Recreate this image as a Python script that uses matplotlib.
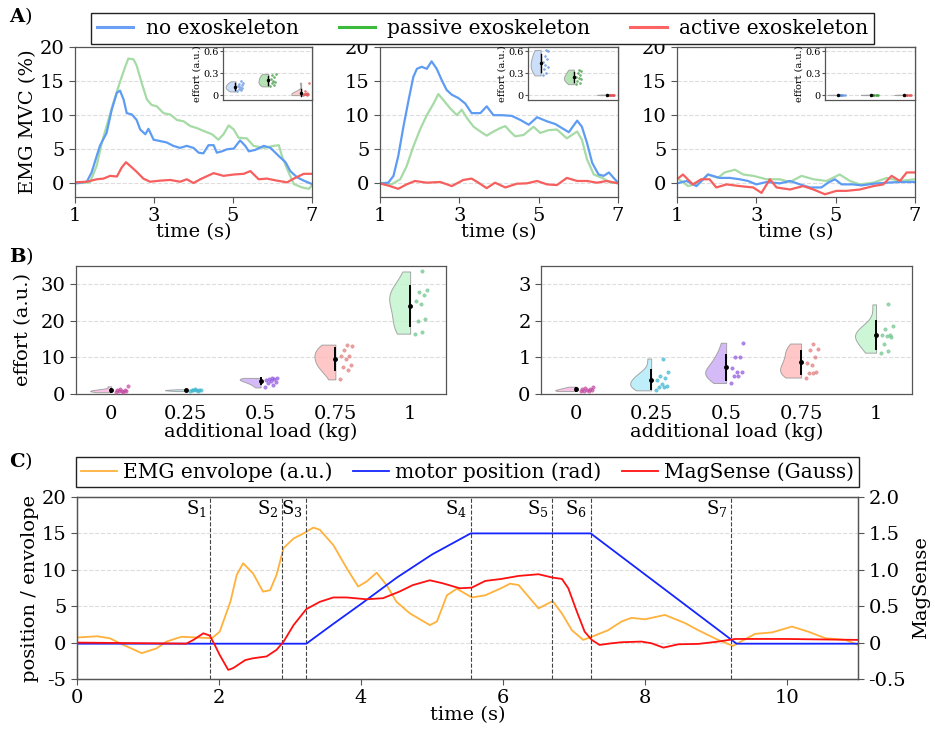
import numpy as np
import matplotlib
matplotlib.use("Agg")
import matplotlib.pyplot as plt
from matplotlib.lines import Line2D

plt.rcParams['font.family'] = 'DejaVu Serif'
plt.rcParams['mathtext.fontset'] = 'dejavuserif'
plt.rcParams['axes.unicode_minus'] = False

# ---- Panel A: EMG MVC (%) traces, three conditions ----
a1_blue_t = [1.0, 1.3, 1.42, 1.63, 1.8, 1.93, 2.06, 2.14, 2.23, 2.31, 2.44, 2.56, 2.65, 2.78, 2.86, 2.99,
             3.16, 3.32, 3.49, 3.66, 3.83, 4.0, 4.13, 4.25, 4.38, 4.51, 4.59, 4.72, 4.85, 5.02, 5.18, 5.31,
             5.4, 5.56, 5.78, 5.95, 6.16, 6.33, 6.45, 6.62, 6.79, 7.0]
a1_blue_y = [0, 0.24, 1.6, 5.5, 7.4, 10.8, 13.3, 13.6, 12.3, 10.3, 10.1, 9.3, 7.9, 7.2, 8.0, 6.4,
             6.2, 6.0, 5.5, 5.2, 5.5, 5.2, 4.5, 4.4, 5.6, 5.6, 4.5, 4.7, 5.0, 5.1, 6.3, 5.5,
             4.7, 4.9, 5.5, 5.2, 4.0, 3.1, 1.8, 0.9, 0.4, -0.1]
a1_green_t = [1.0, 1.38, 1.55, 1.68, 1.8, 1.97, 2.14, 2.27, 2.35, 2.48, 2.56, 2.69, 2.82, 2.94, 3.07,
              3.24, 3.41, 3.58, 3.75, 3.92, 4.09, 4.25, 4.47, 4.63, 4.76, 4.89, 5.02, 5.14, 5.35, 5.52,
              5.78, 6.03, 6.16, 6.24, 6.37, 6.54, 6.75, 6.92, 7.0]
a1_green_y = [0, 0.15, 2.6, 6.0, 8.4, 11.8, 14.9, 17.1, 18.3, 18.2, 17.3, 14.7, 12.3, 11.5, 11.3,
              10.3, 10.1, 9.3, 9.1, 8.4, 8.1, 7.7, 7.2, 6.4, 7.2, 8.5, 7.9, 6.7, 6.6, 5.5,
              5.2, 5.5, 5.6, 4.0, 2.1, -0.1, -0.6, -0.8, -0.3]
a1_red_t = [1.0, 1.3, 1.55, 1.72, 1.89, 2.06, 2.18, 2.29, 2.39, 2.56, 2.73, 2.9, 3.16, 3.41, 3.66, 3.83,
            4.0, 4.17, 4.51, 4.76, 5.02, 5.27, 5.44, 5.65, 5.86, 6.11, 6.37, 6.54, 6.79, 7.0]
a1_red_y = [0.15, 0.24, 0.6, 0.7, 1.1, 1.0, 2.3, 3.1, 2.6, 1.7, 0.7, 0.24, 0.4, 0.5, 0.24, 0.6,
            0.05, 0.6, 1.5, 1.1, 1.3, 1.4, 1.8, 0.6, 0.7, 0.4, 0.15, 0.7, 1.4, 1.4]

a2_blue_t = [1.0, 1.21, 1.34, 1.46, 1.59, 1.72, 1.84, 1.93, 2.05, 2.18, 2.3, 2.43, 2.56, 2.68, 2.81,
             2.98, 3.15, 3.31, 3.53, 3.69, 3.86, 4.07, 4.32, 4.54, 4.75, 4.96, 5.21, 5.42, 5.59, 5.76,
             5.97, 6.09, 6.22, 6.35, 6.51, 6.64, 6.77, 6.89, 7.0]
a2_blue_y = [0, 0.1, 1.1, 4.0, 8.3, 12.2, 15.6, 16.8, 17.1, 16.8, 17.9, 16.8, 15.1, 13.7, 13.0,
             12.5, 11.7, 10.3, 10.3, 11.3, 10.0, 10.0, 9.9, 9.3, 8.6, 9.7, 9.1, 8.7, 8.1, 7.5,
             9.2, 8.3, 5.9, 3.0, 1.3, 1.1, 1.6, 0.8, 0.1]
a2_green_t = [1.0, 1.29, 1.51, 1.67, 1.84, 2.01, 2.18, 2.35, 2.47, 2.6, 2.77, 2.94, 3.06, 3.19, 3.36,
              3.53, 3.69, 3.86, 4.03, 4.16, 4.28, 4.41, 4.62, 4.87, 5.04, 5.25, 5.46, 5.71, 5.97, 6.09,
              6.22, 6.39, 6.6, 6.81, 7.0]
a2_green_y = [0, -0.15, 0.6, 2.5, 5.4, 7.9, 10.0, 11.7, 13.1, 12.2, 11.0, 10.0, 10.8, 9.6, 8.3,
              7.6, 7.0, 7.6, 8.1, 8.4, 7.6, 6.9, 7.1, 8.3, 7.4, 7.8, 7.9, 6.6, 7.6, 6.4,
              3.5, 1.3, 0.8, 0.1, 0.1]
a2_red_t = [1.0, 1.25, 1.46, 1.67, 1.88, 2.18, 2.52, 2.81, 3.1, 3.31, 3.48, 3.69, 3.9, 4.16, 4.45, 4.7,
            4.96, 5.21, 5.46, 5.71, 5.97, 6.22, 6.47, 6.72, 7.0]
a2_red_y = [0, -0.4, -0.8, -0.15, 0.35, 0.1, 0.2, -0.4, 0.5, 0.7, 0.1, -0.7, 0.1, -0.6, -0.05, 0,
            0.35, -0.15, -0.25, 0.8, 0.35, 0.35, 0.1, 0.35, 0]

a3_blue_t = [1.0, 1.24, 1.49, 1.78, 2.08, 2.33, 2.58, 2.79, 3.0, 3.26, 3.59, 3.85, 4.1, 4.35, 4.64,
             4.81, 4.98, 5.15, 5.44, 5.65, 5.95, 6.29, 6.62, 7.0]
a3_blue_y = [0, 0.35, -0.4, 1.3, 0.8, 0.8, 0.6, 0.35, -0.15, 0.2, 0, 0.35, -0.15, -0.6, -0.6,
             0.1, 0.6, -0.15, -0.15, -0.3, -0.05, 0.1, 0.2, 0.2]
a3_green_t = [1.0, 1.28, 1.57, 1.78, 2.03, 2.2, 2.46, 2.67, 2.92, 3.26, 3.59, 3.85, 4.14, 4.44, 4.77,
              5.1, 5.36, 5.61, 5.95, 6.29, 6.62, 7.0]
a3_green_y = [0.8, -0.4, 0.1, 1.3, 0.8, 1.6, 2.0, 1.3, 1.1, 0.6, 0.6, 0.2, 1.1, 0.6, 0.35,
              1.3, 0.35, -0.15, 0.1, 0.8, 0.35, 0.6]
a3_red_t = [1.0, 1.15, 1.4, 1.61, 1.82, 1.99, 2.25, 2.58, 2.92, 3.13, 3.34, 3.51, 3.85, 4.18, 4.44,
            4.73, 5.02, 5.27, 5.61, 5.95, 6.2, 6.41, 6.62, 6.79, 7.0]
a3_red_y = [0.6, 1.3, -0.15, 0.6, 0.6, -0.6, -0.15, -0.4, -0.6, -1.4, 0.6, -0.6, -0.9, -0.4, -0.9,
            -1.6, -1.1, -1.1, -0.9, -0.4, -0.15, 1.1, 0.35, 1.6, 1.6]

# inset effort values (a.u.): no / passive / active exoskeleton
ins1_no = [0.05, 0.07, 0.08, 0.1, 0.11, 0.12, 0.14, 0.15, 0.17, 0.19]
ins1_pas = [0.12, 0.14, 0.16, 0.18, 0.2, 0.22, 0.25, 0.27, 0.29]
ins1_act = [0.0, 0.0, 0.01, 0.01, 0.02, 0.02, 0.03, 0.05, 0.17]
ins2_no = [0.27, 0.3, 0.36, 0.38, 0.42, 0.45, 0.5, 0.53, 0.6, 0.62]
ins2_pas = [0.15, 0.17, 0.2, 0.22, 0.23, 0.25, 0.27, 0.3, 0.33, 0.35]
ins2_act = [0.0, 0.0, 0.002, 0.003, 0.004, 0.005, 0.006, 0.008]
ins3_no = [0.0, 0.001, 0.002, 0.003, 0.004, 0.005]
ins3_pas = [0.0, 0.001, 0.002, 0.003, 0.004, 0.006]
ins3_act = [0.0, 0.001, 0.002, 0.003, 0.005, 0.006]

# ---- Panel B: effort vs additional load ----
loads = ["0", "0.25", "0.5", "0.75", "1"]
effort_left = [
    [0.5, 0.6, 0.7, 0.8, 0.9, 1.0, 1.1, 1.3, 2.1],
    [0.8, 0.9, 1.0, 1.0, 1.1, 1.1, 1.2, 1.3],
    [1.8, 2.5, 3.0, 3.3, 3.6, 3.9, 4.1, 4.2, 4.3, 4.4],
    [4.0, 6.5, 7.5, 8.0, 9.5, 10.5, 10.5, 12.0, 13.0, 13.5],
    [16.5, 17.0, 20.0, 20.5, 24.5, 25.5, 27.0, 28.0, 28.5, 33.5],
]
effort_right = [
    [0.08, 0.08, 0.09, 0.1, 0.12, 0.13, 0.15, 0.17, 0.2],
    [0.1, 0.18, 0.2, 0.22, 0.27, 0.38, 0.45, 0.5, 0.6, 0.97],
    [0.3, 0.5, 0.5, 0.6, 0.6, 0.7, 1.0, 1.0, 1.4],
    [0.45, 0.57, 0.58, 0.6, 0.8, 0.85, 1.0, 1.2, 1.22, 1.38],
    [1.13, 1.17, 1.37, 1.55, 1.58, 1.6, 1.62, 1.78, 1.85, 2.45],
]

# ---- Panel C: EMG envelope, motor position, MagSense ----
emg_t = [0, 0.28, 0.46, 0.65, 0.91, 1.12, 1.26, 1.47, 1.69, 1.9, 2.01, 2.16, 2.25, 2.34, 2.48, 2.62,
         2.72, 2.81, 2.91, 3.05, 3.19, 3.33, 3.42, 3.61, 3.8, 3.96, 4.08, 4.22, 4.36, 4.5, 4.69,
         4.97, 5.07, 5.21, 5.35, 5.56, 5.75, 5.98, 6.1, 6.22, 6.36, 6.5, 6.7, 6.83, 6.97, 7.13,
         7.25, 7.48, 7.67, 7.81, 8.0, 8.28, 8.56, 8.75, 9.03, 9.24, 9.35, 9.55, 9.79, 10.07, 10.3,
         10.54, 10.82, 11.0]
emg_y = [0.7, 0.87, 0.6, -0.3, -1.45, -0.8, 0.14, 0.8, 0.7, 0.6, 1.5, 5.6, 9.3, 10.9, 9.5, 7.0,
         7.2, 9.3, 13.0, 14.3, 15.0, 15.8, 15.5, 13.4, 10.2, 7.7, 8.4, 9.6, 7.9, 5.6, 4.0,
         2.4, 2.9, 6.5, 7.4, 6.2, 6.5, 7.5, 8.1, 7.9, 6.3, 4.7, 5.7, 4.0, 1.7, 0.37,
         0.8, 1.7, 2.9, 3.4, 3.2, 3.8, 2.7, 1.7, 0.37, -0.46, 0.14, 1.2, 1.4, 2.2, 1.5,
         0.6, 0.37, -0.3]
motor_t = [0, 3.23, 3.6, 4.0, 4.5, 5.0, 5.545, 7.235, 9.29, 11.0]
motor_rad = [-0.015, -0.015, 0.25, 0.53, 0.89, 1.21, 1.5, 1.5, -0.015, -0.015]
mag_t = [0, 1.54, 1.64, 1.78, 1.87, 1.94, 2.01, 2.13, 2.2, 2.37, 2.48, 2.67, 2.81, 2.91, 3.05, 3.23,
         3.42, 3.61, 3.8, 4.08, 4.31, 4.54, 4.73, 4.97, 5.15, 5.39, 5.56, 5.75, 5.98, 6.22, 6.5,
         6.7, 6.83, 6.92, 7.04, 7.15, 7.25, 7.36, 7.53, 7.67, 7.95, 8.09, 8.26, 8.47, 8.75, 9.03,
         9.27, 9.97, 11.0]
mag_y = [0.0, -0.014, 0.037, 0.128, 0.096, -0.032, -0.17, -0.375, -0.35, -0.24, -0.215, -0.19, -0.1,
         0.014, 0.24, 0.46, 0.56, 0.62, 0.62, 0.595, 0.61, 0.7, 0.79, 0.856, 0.815, 0.746, 0.755,
         0.847, 0.875, 0.916, 0.939, 0.893, 0.875, 0.746, 0.426, 0.15, 0.037, -0.032, -0.009,
         0.005, 0.014, -0.009, -0.069, -0.023, -0.018, 0.014, 0.05, 0.05, 0.037]
phase_t = [1.88, 2.89, 3.23, 5.545, 6.69, 7.235, 9.21]

W, H = 935, 735
fig = plt.figure(figsize=(W / 100, H / 100), dpi=100)


def rect(l, t, r, b):
    return [l / W, 1 - b / H, (r - l) / W, (b - t) / H]


def style(ax, fs=14):
    for s in ax.spines.values():
        s.set_color('#555555')
        s.set_linewidth(0.9)
    ax.tick_params(labelsize=fs, length=4, color='#555555')
    ax.yaxis.grid(True, ls='--', color='#dddddd', lw=0.8)
    ax.set_axisbelow(True)


def half_violin(ax, pos, vals, fill, dotc, width=0.28, s=6, spread=0.17, lw=1.4, ms=2.5):
    v = np.asarray(vals, float)
    sd = v.std(ddof=1)
    bw = sd * len(v) ** (-0.2) if sd > 0 else 1e-3
    yy = np.linspace(v.min(), v.max(), 120)
    d = np.exp(-0.5 * ((yy[:, None] - v[None, :]) / bw) ** 2).sum(1)
    d = d / d.max()
    ax.fill_betweenx(yy, pos - width * d, pos, facecolor=fill, edgecolor='#999999',
                     linewidth=0.7, alpha=0.85, zorder=2)
    jit = pos + 0.06 + spread * ((np.arange(len(v)) * 0.618) % 1.0)
    ax.scatter(jit, v, s=s, color=dotc, edgecolors=dotc, linewidths=0.4, alpha=0.7, zorder=3)
    m = v.mean()
    ax.plot([pos, pos], [m - sd, m + sd], color='black', lw=lw, zorder=4)
    ax.plot([pos], [m], 'o', color='black', ms=ms, zorder=5)


# ---------------- Panel A ----------------
c_blue, c_green, c_red = '#5e9cf4', '#a6dba6', '#f75e5e'
traces = [
    (a1_blue_t, a1_blue_y, a1_green_t, a1_green_y, a1_red_t, a1_red_y),
    (a2_blue_t, a2_blue_y, a2_green_t, a2_green_y, a2_red_t, a2_red_y),
    (a3_blue_t, a3_blue_y, a3_green_t, a3_green_y, a3_red_t, a3_red_y),
]
insets = [(ins1_no, ins1_pas, ins1_act), (ins2_no, ins2_pas, ins2_act), (ins3_no, ins3_pas, ins3_act)]
a_boxes = [(75, 312, 223), (380, 618, 528), (677, 915, 825)]

for i, ((l, r, il), tr, ins) in enumerate(zip(a_boxes, traces, insets)):
    ax = fig.add_axes(rect(l, 47, r, 197))
    style(ax)
    ax.plot(tr[2], tr[3], color=c_green, lw=1.6)
    ax.plot(tr[0], tr[1], color=c_blue, lw=1.6)
    ax.plot(tr[4], tr[5], color=c_red, lw=1.6)
    ax.set_xlim(1, 7)
    ax.set_ylim(-2, 20)
    ax.set_xticks([1, 3, 5, 7])
    ax.set_yticks([0, 5, 10, 15, 20])
    ax.set_xlabel('time (s)', fontsize=14, labelpad=-2)
    if i == 0:
        ax.set_ylabel('EMG MVC (%)', fontsize=14, labelpad=2)

    axi = fig.add_axes(rect(il, 47, r, 99.5))
    style(axi, fs=7)
    axi.tick_params(length=2, pad=1)
    half_violin(axi, 0, ins[0], '#c4dafa', '#5a8fe0', width=0.3, s=2, spread=0.18, lw=1.0, ms=1.5)
    half_violin(axi, 1, ins[1], '#a9dea9', '#3a9a3a', width=0.3, s=2, spread=0.18, lw=1.0, ms=1.5)
    half_violin(axi, 2, ins[2], '#f8c4c4', '#e05050', width=0.3, s=2, spread=0.18, lw=1.0, ms=1.5)
    axi.set_xlim(-0.38, 2.33)
    axi.set_ylim(-0.06, 0.66)
    axi.set_xticks([])
    axi.set_yticks([0, 0.3, 0.6])
    axi.set_yticklabels(['0', '0.3', '0.6'])
    axi.set_ylabel('effort (a.u.)', fontsize=7, labelpad=1)
    axi.set_facecolor('white')

handles = [Line2D([], [], color='#6a9ff5', lw=2.2),
           Line2D([], [], color='#3cba3c', lw=2.2),
           Line2D([], [], color='#ff6464', lw=2.2)]
fig.legend(handles, ['no exoskeleton', 'passive exoskeleton', 'active exoskeleton'],
           loc='upper center', bbox_to_anchor=(482.5 / W, 1 - 3 / H), ncol=3, fontsize=14.5,
           handlelength=1.8, handletextpad=0.6, columnspacing=2.0, borderpad=0.3,
           edgecolor='#222222', framealpha=1, fancybox=False)

# ---------------- Panel B ----------------
b_fill = ['#f8b8e2', '#b3ecfa', '#cdb0f7', '#ffbdbd', '#c3f5cf']
b_dot = ['#c2479f', '#3bb6cf', '#8f55e0', '#e07a7a', '#6cc48a']
for j, (l, r, data, ylim, yt) in enumerate([(76, 446, effort_left, 35, [0, 10, 20, 30]),
                                            (541, 912, effort_right, 3.5, [0, 1, 2, 3])]):
    ax = fig.add_axes(rect(l, 266, r, 394))
    style(ax)
    for k, vals in enumerate(data):
        half_violin(ax, k, vals, b_fill[k], b_dot[k])
    ax.set_xlim(-0.47, 4.48)
    ax.set_ylim(0, ylim)
    ax.set_yticks(yt)
    ax.set_xticks(range(len(loads)))
    ax.set_xticklabels(loads)
    ax.tick_params(axis='x', length=0, pad=8)
    ax.set_xlabel('additional load (kg)', fontsize=14, labelpad=0)
    if j == 0:
        ax.set_ylabel('effort (a.u.)', fontsize=14, labelpad=6)

# ---------------- Panel C ----------------
axc = fig.add_axes(rect(77, 497, 858, 679))
style(axc)
axr = axc.twinx()
style(axr)
axr.yaxis.grid(False)
l1, = axc.plot(emg_t, emg_y, color='#ffb13b', lw=1.3)
l2, = axr.plot(motor_t, motor_rad, color='#1525ff', lw=1.3)
l3, = axr.plot(mag_t, mag_y, color='#ff1010', lw=1.3)
for n, xt in enumerate(phase_t):
    axc.axvline(xt, color='#444444', ls='--', lw=0.8)
    axc.text(xt - 0.05, 18.4, 'S$_{%d}$' % (n + 1), ha='right', va='center', fontsize=13)
axc.set_xlim(0, 11)
axc.set_ylim(-5, 20)
axr.set_ylim(-0.5, 2.0)
axc.set_xticks([0, 2, 4, 6, 8, 10])
axc.set_yticks([-5, 0, 5, 10, 15, 20])
axc.set_yticklabels(['-5', '0', '5', '10', '15', '20'])
axr.set_yticks([-0.5, 0, 0.5, 1.0, 1.5, 2.0])
axr.set_yticklabels(['-0.5', '0', '0.5', '1.0', '1.5', '2.0'])
axc.set_xlabel('time (s)', fontsize=14, labelpad=-1)
axc.set_ylabel('position / envolope', fontsize=14, labelpad=2)
axr.set_ylabel('MagSense', fontsize=14, labelpad=4)
axc.legend([l1, l2, l3], ['EMG envolope (a.u.)', 'motor position (rad)', 'MagSense (Gauss)'],
           loc='lower center', bbox_to_anchor=(0.5, 1.0), ncol=3, fontsize=14.5,
           handlelength=1.8, handletextpad=0.3, columnspacing=1.0, borderpad=0.25,
           edgecolor='#222222', framealpha=1, fancybox=False)

# panel letters
fig.text(9 / W, 1 - 22 / H, r'$\mathbf{A}$)', fontsize=14)
fig.text(9 / W, 1 - 262 / H, r'$\mathbf{B}$)', fontsize=14)
fig.text(9 / W, 1 - 467 / H, r'$\mathbf{C}$)', fontsize=14)

fig.savefig('out.png', dpi=100)
